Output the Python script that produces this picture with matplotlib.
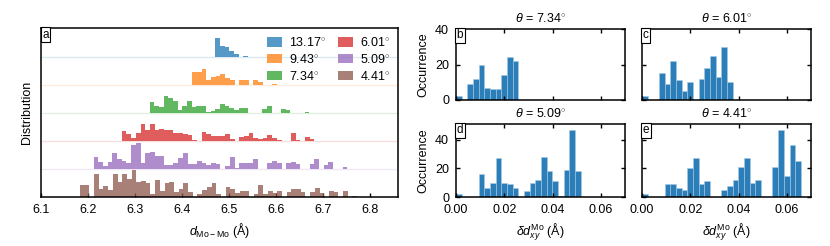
import matplotlib
matplotlib.use('Agg')
import matplotlib.pyplot as plt
import numpy as np

plt.rcParams['font.family'] = ['Liberation Sans', 'DejaVu Sans']
plt.rcParams['font.size'] = 9
plt.rcParams['mathtext.fontset'] = 'custom'
plt.rcParams['mathtext.rm'] = 'Liberation Sans'
plt.rcParams['mathtext.it'] = 'Liberation Sans:italic'
plt.rcParams['axes.linewidth'] = 1.1

# --- datos: histogramas de d_Mo-Mo (panel a), ancho de bin 0.01 A ---
angulos = ['13.17', '9.43', '7.34', '6.01', '5.09', '4.41']
colores = ['tab:blue', 'tab:orange', 'tab:green', 'tab:red', 'tab:purple', 'tab:brown']
inicio_bins = [6.471, 6.422, 6.331, 6.272, 6.212, 6.183]
ancho_bin = 0.01

h_1317 = [19.5, 10.7, 10.0, 6.0, 3.3, 0, 0.7]
h_943 = [12.7, 12.7, 16.0, 5.3, 8.0, 9.3, 11.3, 6.7, 5.3, 0, 5.3, 5.3, 0, 4.7, 2.7, 0, 0, 1.3]
h_734 = [10.7, 7.0, 6.0, 16.7, 15.0, 12.0, 2.7, 6.7, 12.0, 6.0,
         6.7, 6.7, 1.0, 1.7, 4.3, 8.7, 6.7, 5.3, 3.3, 5.3,
         5.3, 0, 0, 0, 4.3, 6.7, 0, 0, 4.3, 2.7,
         0, 0, 0, 0.7]
h_601 = [10.5, 7.5, 3.0, 8.0, 17.0, 11.0, 17.0, 11.5, 12.5, 11.5,
         11.5, 8.5, 8.0, 7.3, 6.3, 1.2, 0, 9.0, 6.7, 4.7,
         4.7, 4.7, 6.7, 2.0, 0, 4.0, 5.0, 7.7, 2.7, 1.7,
         2.7, 6.0, 2.7, 1.0, 0, 0, 8.3, 1.0, 0, 4.0,
         1.7, 0, 0, 0.5]
h_509 = [11.7, 7.3, 3.0, 7.3, 16.3, 9.7, 8.3, 6.3, 24.0, 25.7,
         6.3, 15.7, 17.3, 13.0, 13.0, 4.0, 3.7, 5.7, 11.5, 15.7,
         5.0, 5.0, 8.3, 6.3, 4.5, 6.3, 5.0, 0, 3.0, 11.7,
         0.7, 5.7, 5.7, 5.7, 9.7, 0, 0, 6.3, 8.3, 6.3,
         0, 5.7, 6.7, 4.7, 0, 0, 4.7, 10.0, 0, 4.0,
         7.3, 0, 0, 1.7]
h_441 = [11.7, 11.7, 0, 23.3, 8.3, 11.0, 6.7, 23.3, 15.0, 23.3,
         18.3, 26.7, 15.0, 16.0, 14.0, 3.3, 17.3, 6.0, 14.0, 15.3,
         5.0, 8.5, 14.0, 5.0, 0, 2.7, 7.3, 10.0, 14.0, 3.3,
         0, 10.0, 8.3, 4.0, 5.7, 5.7, 0, 3.3, 11.7, 3.3,
         6.0, 4.0, 6.0, 0, 5.0, 8.3, 7.7, 5.0, 0, 5.0,
         9.3, 4.3, 0, 6.0, 5.0, 0, 6.0, 0, 1.0]
alturas = [h_1317, h_943, h_734, h_601, h_509, h_441]

# --- datos: histogramas de delta d_xy (paneles b-e) ---
titulos = ['7.34', '6.01', '5.09', '4.41']
letras = ['b', 'c', 'd', 'e']
ancho_dxy = 0.00235
n_734 = [2, 0, 9, 12, 20, 7, 6, 6, 14, 24, 22]
n_601 = [2, 0, 0, 15, 9, 22, 11, 5, 10, 0, 12, 18, 25, 13, 30, 10]
n_509 = [2, 0, 0, 0, 16, 6, 10, 27, 10, 9, 6, 0, 4, 10, 12, 28, 18, 11, 1, 19, 47, 18]
n_441 = [2, 0, 0, 0, 9, 9, 6, 5, 20, 27, 9, 11, 0, 0, 5, 8, 12, 21, 27, 10,
         12, 0, 0, 21, 47, 15, 36, 25]
conteos = [n_734, n_601, n_509, n_441]

separacion = 28

fig = plt.figure(figsize=(8.3, 2.46), dpi=100)


def etiqueta(ax, letra):
    ax.text(0.004, 0.995, letra, transform=ax.transAxes, ha='left', va='top',
            fontsize=8.5, zorder=10,
            bbox=dict(boxstyle='square,pad=0.12', fc='white', ec='black', lw=0.8))


# --- panel a ---
axa = fig.add_axes([41 / 830, 1 - 197 / 246, 357 / 830, 169 / 246])
n_series = len(alturas)
for i, (h, x0, c, ang) in enumerate(zip(alturas, inicio_bins, colores, angulos)):
    base = (n_series - 1 - i) * separacion
    bordes = x0 + ancho_bin * np.arange(len(h))
    axa.axhline(base, color=c, alpha=0.15, lw=1.0, zorder=1)
    axa.bar(bordes, h, width=ancho_bin, bottom=base, align='edge', color=c,
            alpha=0.75, lw=0, label=ang + r'$^{\circ}$', zorder=2)
axa.set_xlim(6.1, 6.86)
axa.set_ylim(0, 169)
axa.set_yticks([])
axa.set_xticks(np.arange(6.1, 6.81, 0.1))
axa.set_xticklabels(['6.1', '6.2', '6.3', '6.4', '6.5', '6.6', '6.7', '6.8'])
axa.tick_params(axis='x', direction='in', length=3, width=1, pad=5)
axa.set_xlabel(r'$d_{\rm Mo-Mo}$ (Å)')
axa.set_ylabel('Distribution', labelpad=6)
axa.legend(loc='upper right', ncol=2, frameon=False, handlelength=1.2,
           handleheight=0.8, columnspacing=1.0, labelspacing=0.3,
           handletextpad=0.5, borderaxespad=0.25, fontsize=9)
etiqueta(axa, 'a')

# --- paneles b-e ---
posiciones = [(456, 29, 100), (642, 29, 100), (456, 124, 197), (642, 124, 197)]
for k, (n, tit, letra, (px, ptop, pbot)) in enumerate(zip(conteos, titulos, letras, posiciones)):
    ax = fig.add_axes([px / 830, 1 - pbot / 246, 169 / 830, (pbot - ptop) / 246])
    bordes = ancho_dxy * np.arange(len(n))
    ax.bar(bordes, n, width=ancho_dxy, align='edge', color='tab:blue',
           alpha=0.95, ec='#a9cbe6', lw=0.4)
    ax.set_xlim(0, 0.07)
    ax.set_xticks([0, 0.02, 0.04, 0.06])
    if k < 2:
        ax.set_ylim(0, 40)
        ax.set_xticklabels([])
    else:
        ax.set_ylim(0, 51)
        ax.set_xticklabels(['0.00', '0.02', '0.04', '0.06'])
        ax.set_xlabel(r'$\delta d_{xy}^{\rm Mo}$ (Å)')
    ax.set_yticks([0, 20, 40])
    if k % 2 == 1:
        ax.set_yticklabels([])
    else:
        ax.set_ylabel('Occurrence')
    ax.tick_params(direction='in', length=3, width=1, top=True, right=True, pad=5)
    ax.set_title(r'$\theta$ = ' + tit + r'$^{\circ}$', fontsize=9, pad=5)
    etiqueta(ax, letra)

fig.savefig('out.png', dpi=100)
